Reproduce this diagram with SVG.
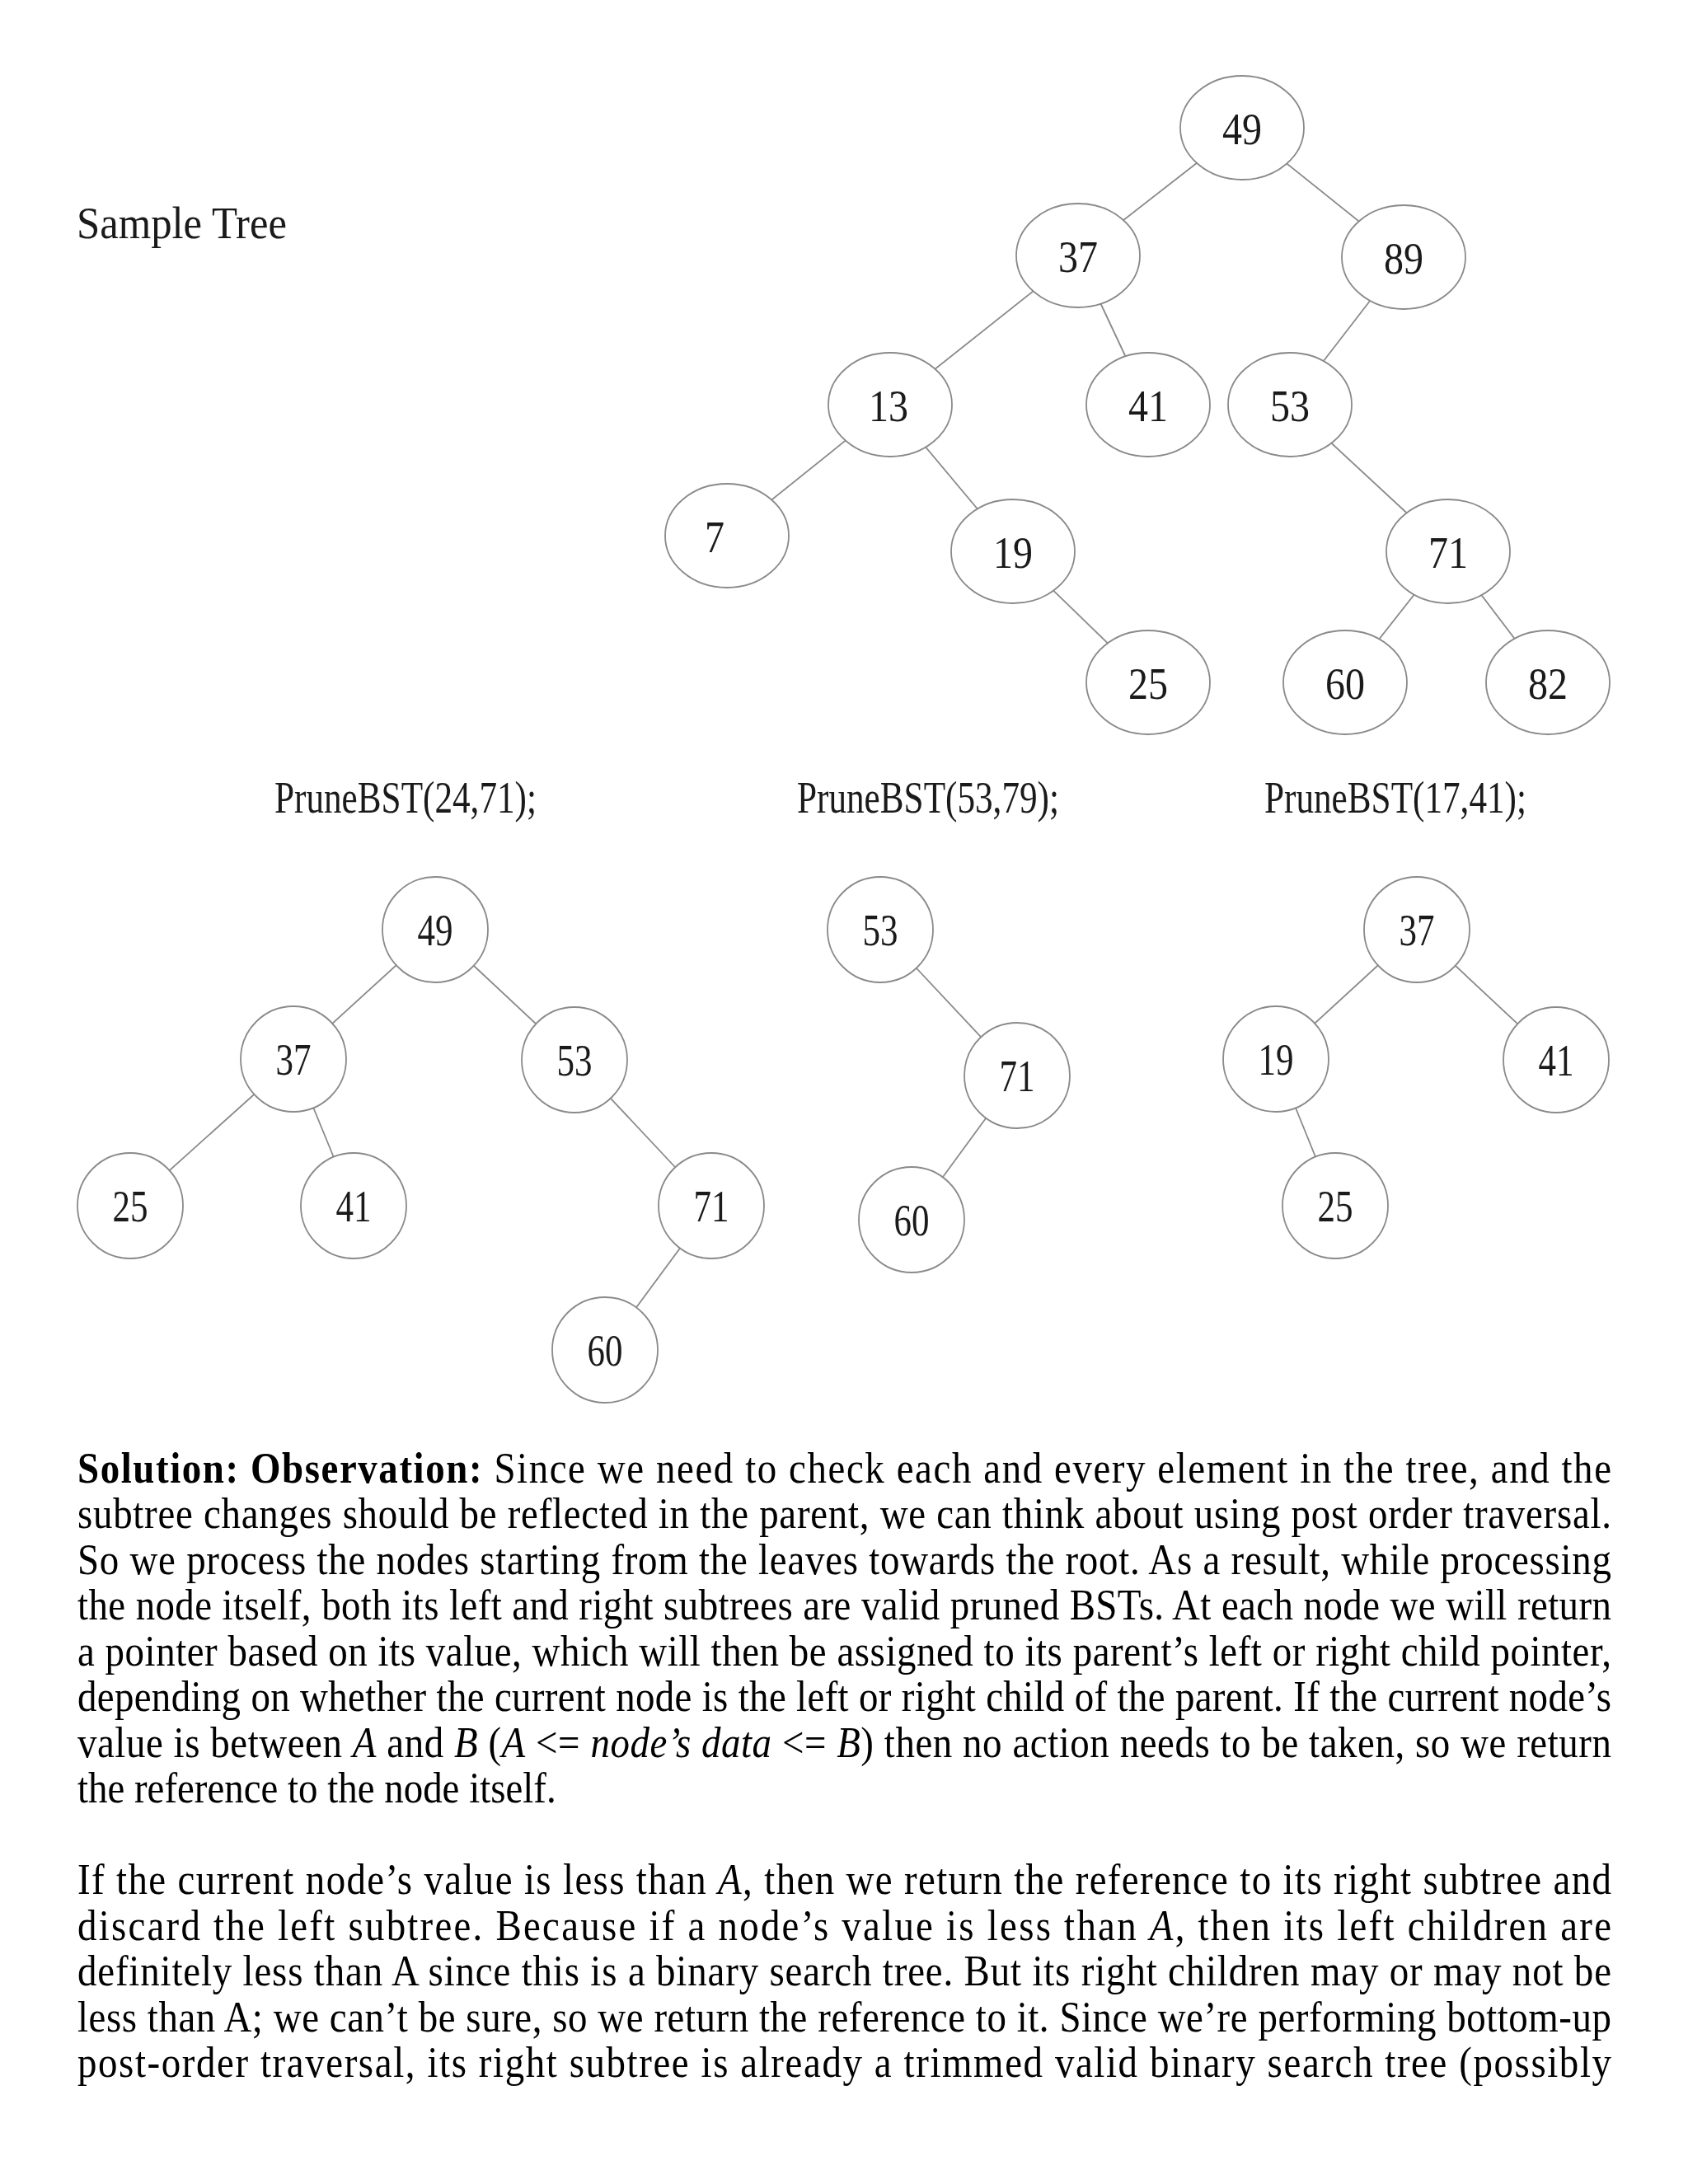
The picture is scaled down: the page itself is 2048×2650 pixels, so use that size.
<svg xmlns="http://www.w3.org/2000/svg" width="2048" height="2650" viewBox="0 0 2048 2650">
<style>
.bg{fill:#fff}
.edge{stroke:#8a8a8a;stroke-width:1.8;fill:none}
.ell{fill:#fff;stroke:#8a8a8a;stroke-width:1.8}
.lbl{font-family:"Liberation Serif","Times New Roman",serif;font-size:54px;fill:#1a1a1a;text-anchor:middle}
.lbl2{font-family:"Liberation Serif","Times New Roman",serif;font-size:54px;fill:#1a1a1a;text-anchor:middle}
.title{font-family:"Liberation Serif","Times New Roman",serif;font-size:54px;fill:#1a1a1a}
.body{font-family:"Liberation Serif","Times New Roman",serif;font-size:53px;fill:#000}
.b{font-weight:bold}
.i{font-style:italic}
</style>
<rect class="bg" x="0" y="0" width="2048" height="2650"/>

<text class="title" x="93" y="289" textLength="255" lengthAdjust="spacingAndGlyphs">Sample Tree</text>
<text class="title" x="333" y="986" textLength="318" lengthAdjust="spacingAndGlyphs">PruneBST(24,71);</text>
<text class="title" x="967" y="986" textLength="318" lengthAdjust="spacingAndGlyphs">PruneBST(53,79);</text>
<text class="title" x="1534" y="986" textLength="318" lengthAdjust="spacingAndGlyphs">PruneBST(17,41);</text>

<g id="connectors">
  <line class="edge" x1="1507" y1="155" x2="1308" y2="310"/>
  <line class="edge" x1="1507" y1="155" x2="1703" y2="312"/>
  <line class="edge" x1="1308" y1="310" x2="1080" y2="491"/>
  <line class="edge" x1="1308" y1="310" x2="1393" y2="491"/>
  <line class="edge" x1="1703" y1="312" x2="1565" y2="491"/>
  <line class="edge" x1="1080" y1="491" x2="882" y2="650"/>
  <line class="edge" x1="1080" y1="491" x2="1229" y2="669"/>
  <line class="edge" x1="1565" y1="491" x2="1757" y2="669"/>
  <line class="edge" x1="1229" y1="669" x2="1393" y2="828"/>
  <line class="edge" x1="1757" y1="669" x2="1632" y2="828"/>
  <line class="edge" x1="1757" y1="669" x2="1878" y2="828"/>
  <line class="edge" x1="528" y1="1128" x2="356" y2="1285"/>
  <line class="edge" x1="528" y1="1128" x2="697" y2="1286"/>
  <line class="edge" x1="356" y1="1285" x2="158" y2="1463"/>
  <line class="edge" x1="356" y1="1285" x2="429" y2="1463"/>
  <line class="edge" x1="697" y1="1286" x2="863" y2="1463"/>
  <line class="edge" x1="863" y1="1463" x2="734" y2="1638"/>
  <line class="edge" x1="1068" y1="1128" x2="1234" y2="1305"/>
  <line class="edge" x1="1234" y1="1305" x2="1106" y2="1480"/>
  <line class="edge" x1="1719" y1="1128" x2="1548" y2="1285"/>
  <line class="edge" x1="1719" y1="1128" x2="1888" y2="1286"/>
  <line class="edge" x1="1548" y1="1285" x2="1620" y2="1463"/>
</g>

<g id="sample-tree">
  <g id="s49"><ellipse class="ell" cx="1507" cy="155" rx="75" ry="63"/><text class="lbl" x="1507" y="175" textLength="48" lengthAdjust="spacingAndGlyphs">49</text></g>
  <g id="s37"><ellipse class="ell" cx="1308" cy="310" rx="75" ry="63"/><text class="lbl" x="1308" y="330" textLength="48" lengthAdjust="spacingAndGlyphs">37</text></g>
  <g id="s89"><ellipse class="ell" cx="1703" cy="312" rx="75" ry="63"/><text class="lbl" x="1703" y="332" textLength="48" lengthAdjust="spacingAndGlyphs">89</text></g>
  <g id="s13"><ellipse class="ell" cx="1080" cy="491" rx="75" ry="63"/><text class="lbl" x="1078" y="511" textLength="48" lengthAdjust="spacingAndGlyphs">13</text></g>
  <g id="s41"><ellipse class="ell" cx="1393" cy="491" rx="75" ry="63"/><text class="lbl" x="1393" y="511" textLength="48" lengthAdjust="spacingAndGlyphs">41</text></g>
  <g id="s53"><ellipse class="ell" cx="1565" cy="491" rx="75" ry="63"/><text class="lbl" x="1565" y="511" textLength="48" lengthAdjust="spacingAndGlyphs">53</text></g>
  <g id="s7"><ellipse class="ell" cx="882" cy="650" rx="75" ry="63"/><text class="lbl" x="867" y="670" textLength="24" lengthAdjust="spacingAndGlyphs">7</text></g>
  <g id="s19"><ellipse class="ell" cx="1229" cy="669" rx="75" ry="63"/><text class="lbl" x="1229" y="689" textLength="48" lengthAdjust="spacingAndGlyphs">19</text></g>
  <g id="s71"><ellipse class="ell" cx="1757" cy="669" rx="75" ry="63"/><text class="lbl" x="1757" y="689" textLength="48" lengthAdjust="spacingAndGlyphs">71</text></g>
  <g id="s25"><ellipse class="ell" cx="1393" cy="828" rx="75" ry="63"/><text class="lbl" x="1393" y="848" textLength="48" lengthAdjust="spacingAndGlyphs">25</text></g>
  <g id="s60"><ellipse class="ell" cx="1632" cy="828" rx="75" ry="63"/><text class="lbl" x="1632" y="848" textLength="48" lengthAdjust="spacingAndGlyphs">60</text></g>
  <g id="s82"><ellipse class="ell" cx="1878" cy="828" rx="75" ry="63"/><text class="lbl" x="1878" y="848" textLength="48" lengthAdjust="spacingAndGlyphs">82</text></g>
</g>

<g id="prune-24-71">
  <g id="a49"><circle class="ell" cx="528" cy="1128" r="64"/><text class="lbl2" x="528" y="1147" textLength="43" lengthAdjust="spacingAndGlyphs">49</text></g>
  <g id="a37"><circle class="ell" cx="356" cy="1285" r="64"/><text class="lbl2" x="356" y="1304" textLength="43" lengthAdjust="spacingAndGlyphs">37</text></g>
  <g id="a53"><circle class="ell" cx="697" cy="1286" r="64"/><text class="lbl2" x="697" y="1305" textLength="43" lengthAdjust="spacingAndGlyphs">53</text></g>
  <g id="a25"><circle class="ell" cx="158" cy="1463" r="64"/><text class="lbl2" x="158" y="1482" textLength="43" lengthAdjust="spacingAndGlyphs">25</text></g>
  <g id="a41"><circle class="ell" cx="429" cy="1463" r="64"/><text class="lbl2" x="429" y="1482" textLength="43" lengthAdjust="spacingAndGlyphs">41</text></g>
  <g id="a71"><circle class="ell" cx="863" cy="1463" r="64"/><text class="lbl2" x="863" y="1482" textLength="43" lengthAdjust="spacingAndGlyphs">71</text></g>
  <g id="a60"><circle class="ell" cx="734" cy="1638" r="64"/><text class="lbl2" x="734" y="1657" textLength="43" lengthAdjust="spacingAndGlyphs">60</text></g>
</g>

<g id="prune-53-79">
  <g id="b53"><circle class="ell" cx="1068" cy="1128" r="64"/><text class="lbl2" x="1068" y="1147" textLength="43" lengthAdjust="spacingAndGlyphs">53</text></g>
  <g id="b71"><circle class="ell" cx="1234" cy="1305" r="64"/><text class="lbl2" x="1234" y="1324" textLength="43" lengthAdjust="spacingAndGlyphs">71</text></g>
  <g id="b60"><circle class="ell" cx="1106" cy="1480" r="64"/><text class="lbl2" x="1106" y="1499" textLength="43" lengthAdjust="spacingAndGlyphs">60</text></g>
</g>

<g id="prune-17-41">
  <g id="c37"><circle class="ell" cx="1719" cy="1128" r="64"/><text class="lbl2" x="1719" y="1147" textLength="43" lengthAdjust="spacingAndGlyphs">37</text></g>
  <g id="c19"><circle class="ell" cx="1548" cy="1285" r="64"/><text class="lbl2" x="1548" y="1304" textLength="43" lengthAdjust="spacingAndGlyphs">19</text></g>
  <g id="c41"><circle class="ell" cx="1888" cy="1286" r="64"/><text class="lbl2" x="1888" y="1305" textLength="43" lengthAdjust="spacingAndGlyphs">41</text></g>
  <g id="c25"><circle class="ell" cx="1620" cy="1463" r="64"/><text class="lbl2" x="1620" y="1482" textLength="43" lengthAdjust="spacingAndGlyphs">25</text></g>
</g>

<g id="paragraphs" transform="scale(0.885,1)">
  <text class="body" x="106.2" y="1799" textLength="2102.8" lengthAdjust="spacing"><tspan class="b">Solution: Observation:</tspan> Since we need to check each and every element in the tree, and the</text>
  <text class="body" x="106.2" y="1854.5" textLength="2102.8" lengthAdjust="spacing">subtree changes should be reflected in the parent, we can think about using post order traversal.</text>
  <text class="body" x="106.2" y="1910" textLength="2102.8" lengthAdjust="spacing">So we process the nodes starting from the leaves towards the root. As a result, while processing</text>
  <text class="body" x="106.2" y="1965.5" textLength="2102.8" lengthAdjust="spacing">the node itself, both its left and right subtrees are valid pruned BSTs. At each node we will return</text>
  <text class="body" x="106.2" y="2021" textLength="2102.8" lengthAdjust="spacing">a pointer based on its value, which will then be assigned to its parent’s left or right child pointer,</text>
  <text class="body" x="106.2" y="2076.5" textLength="2102.8" lengthAdjust="spacing">depending on whether the current node is the left or right child of the parent. If the current node’s</text>
  <text class="body" x="106.2" y="2132" textLength="2102.8" lengthAdjust="spacing">value is between <tspan class="i">A</tspan> and <tspan class="i">B</tspan> (<tspan class="i">A</tspan> &lt;= <tspan class="i">node’s data</tspan> &lt;= <tspan class="i">B</tspan>) then no action needs to be taken, so we return</text>
  <text class="body" x="106.2" y="2187.5">the reference to the node itself.</text>
  <text class="body" x="106.2" y="2298.5" textLength="2102.8" lengthAdjust="spacing">If the current node’s value is less than <tspan class="i">A</tspan>, then we return the reference to its right subtree and</text>
  <text class="body" x="106.2" y="2354" textLength="2102.8" lengthAdjust="spacing">discard the left subtree. Because if a node’s value is less than <tspan class="i">A</tspan>, then its left children are</text>
  <text class="body" x="106.2" y="2409.5" textLength="2102.8" lengthAdjust="spacing">definitely less than A since this is a binary search tree. But its right children may or may not be</text>
  <text class="body" x="106.2" y="2465" textLength="2102.8" lengthAdjust="spacing">less than A; we can’t be sure, so we return the reference to it. Since we’re performing bottom-up</text>
  <text class="body" x="106.2" y="2520.5" textLength="2102.8" lengthAdjust="spacing">post-order traversal, its right subtree is already a trimmed valid binary search tree (possibly</text>
</g>
</svg>
